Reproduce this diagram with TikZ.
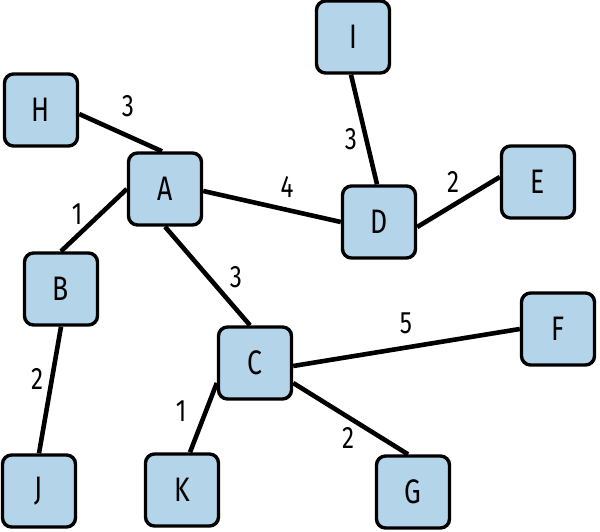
\documentclass[tikz,border=0pt]{standalone}
\usepackage{fontspec}
\setmainfont{Fira Sans}[FakeStretch=0.78]
\begin{document}
\begin{tikzpicture}[x=1pt,y=-1pt,
  v/.style={draw=black,line width=3.4pt,fill={rgb,255:red,180;green,212;blue,234},rounded corners=9pt,minimum width=73pt,minimum height=72pt,inner sep=0pt,font=\fontsize{34}{34}\selectfont},
  e/.style={line width=4.6pt},
  lbl/.style={font=\fontsize{31}{31}\selectfont,inner sep=0pt}]
\useasboundingbox (0,0) rectangle (600,532);
\begin{scope}[every node/.style={v}]
\node (H) at (41,110) {H};
\node (I) at (353,37) {I};
\node (A) at (165,189) {A};
\node (D) at (379,222) {D};
\node (E) at (538,182) {E};
\node (B) at (61,289) {B};
\node (F) at (558,329) {F};
\node (C) at (255,363) {C};
\node (J) at (39,491) {J};
\node (K) at (182,490) {K};
\node (G) at (413,492) {G};
\end{scope}
\draw[e] ([yshift=-4pt]H.east) -- ([xshift=-3pt]A.north);
\draw[e] (A.west) -- (B.north);
\draw[e] ([yshift=-2pt]A.east) -- (D.west);
\draw[e] (A.south) -- ([xshift=-5pt]C.north);
\draw[e] ([xshift=-2pt]I.south) -- ([xshift=-2pt]D.north);
\draw[e] ([yshift=-5pt]D.east) -- ([yshift=5pt]E.west);
\draw[e] ([yshift=-3pt]C.east) -- (F.west);
\draw[e] (B.south) -- (J.north);
\draw[e] ([yshift=-20pt]C.west) -- ([xshift=8pt]K.north);
\draw[e] ([yshift=-20pt]C.east) -- ([xshift=-5pt]G.north);
\node[lbl] (l1) at (128,106) {3};
\node[lbl] (l2) at (77,214) {1};
\node[lbl] (l3) at (287,187) {4};
\node[lbl] (l4) at (236,277) {3};
\node[lbl] (l5) at (351,139) {3};
\node[lbl] (l6) at (453,182) {2};
\node[lbl] (l7) at (406,323) {5};
\node[lbl] (l8) at (37,379) {2};
\node[lbl] (l9) at (181,411) {1};
\node[lbl] (l10) at (348,438) {2};
\end{tikzpicture}
\end{document}
